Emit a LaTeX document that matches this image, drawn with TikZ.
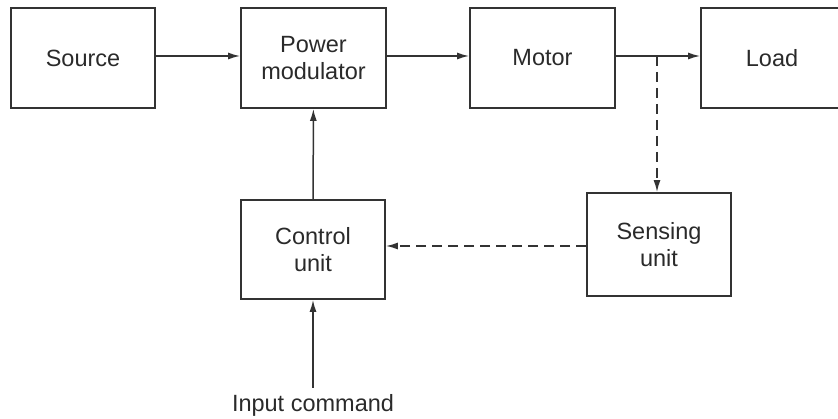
\documentclass[tikz,border=0pt]{standalone}
\usepackage{fontspec}
\setmainfont{Liberation Sans}
\usetikzlibrary{arrows.meta}
\definecolor{ln}{HTML}{333333}
\definecolor{tx}{HTML}{2a2a2a}
\tikzset{
  blk/.style={draw=ln, line width=1.8pt, minimum width=#1, align=center, text=tx,
    font=\fontsize{23.5}{26.5}\selectfont, inner sep=0pt},
  conn/.style={draw=ln, line width=1.5pt, -{Latex[length=12pt,width=7pt]}},
  dsh/.style={conn, dash pattern=on 10pt off 6pt},
}
\begin{document}
\begin{tikzpicture}[x=1pt,y=-1pt]
\useasboundingbox (0,0) rectangle (838,419);
\clip (0,0) rectangle (838,419);
\node[blk=144pt, minimum height=100pt] (src) at (83,58) {Source};
\node[blk=145pt, minimum height=100pt] (pm) at (313.5,58) {Power\\modulator};
\node[blk=145pt, minimum height=100pt] (mot) at (542.5,58) {Motor};
\node[blk=142pt, minimum height=100pt] (load) at (772,58) {Load};
\node[blk=144pt, minimum height=99pt] (ctl) at (313,249.5) {Control\\unit};
\node[blk=144pt, minimum height=103pt] (sen) at (659,244.5) {Sensing\\unit};
\coordinate (br) at (657,56);
\coordinate (inp) at (313,388);
\node[text=tx, font=\fontsize{23.5}{26.5}\selectfont, anchor=base] (inptxt) at (313,411) {Input command};
\draw[conn] (src.east |- 0,56) -- (pm.west |- 0,56);
\draw[conn] (pm.east |- 0,56) -- (mot.west |- 0,56);
\draw[conn] (mot.east |- 0,56) -- (load.west |- 0,56);
\draw[dsh] (br) -- (br |- sen.north);
\draw[dsh] (sen.west |- 0,246) -- (ctl.east |- 0,246);
\draw[conn] (ctl) -- (pm);
\draw[conn] (inp) -- (ctl.south);
\end{tikzpicture}
\end{document}
